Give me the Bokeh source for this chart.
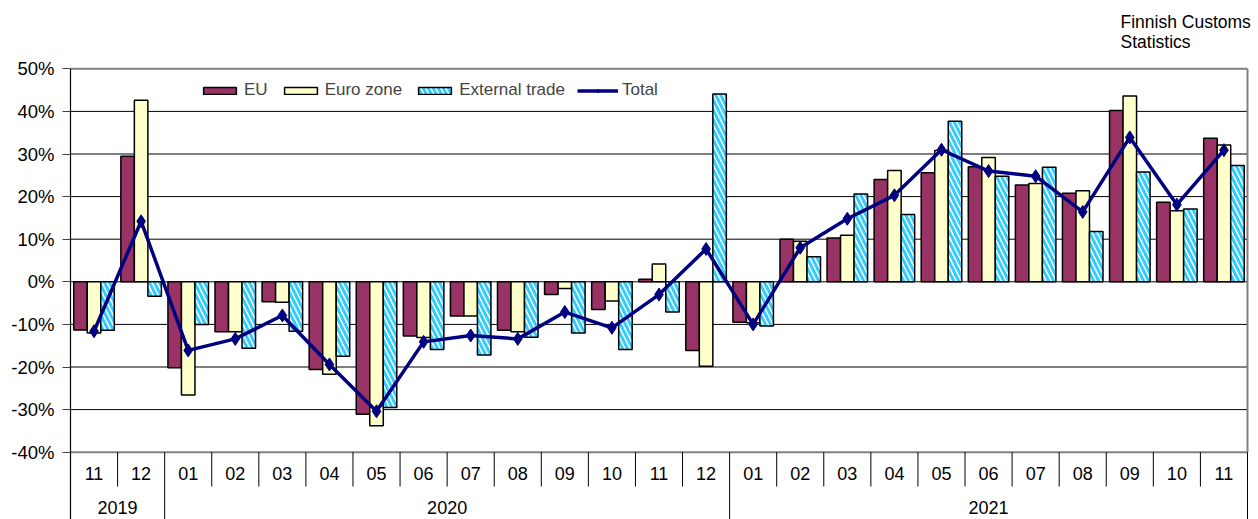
import numpy as np
from bokeh.plotting import figure
from bokeh.models import Range1d, FixedTicker, PrintfTickFormatter, Legend, LegendItem
from bokeh.core.properties import value
from bokeh.embed import file_html
from bokeh.resources import INLINE

# ---------------- data ----------------
months = ["11", "12",
          "01", "02", "03", "04", "05", "06", "07", "08", "09", "10", "11", "12",
          "01", "02", "03", "04", "05", "06", "07", "08", "09", "10", "11"]
years = ["2019", "2020", "2021"]
year_counts = [2, 12, 11]

eu = [-11.3, 29.5, -20.2, -11.7, -4.7, -20.6, -31.1, -12.7, -8.0, -11.4, -3.0, -6.5, 0.6,
      -16.1, -9.5, 10.0, 10.3, 24.0, 25.6, 27.0, 22.7, 20.8, 40.2, 18.7, 33.7]
euro_zone = [-12.0, 42.6, -26.6, -11.7, -4.8, -21.7, -33.8, -13.1, -8.0, -11.7, -1.6, -4.5, 4.2,
             -19.8, -9.6, 9.5, 10.9, 26.1, 30.8, 29.2, 23.1, 21.4, 43.6, 16.7, 32.1]
external = [-11.4, -3.4, -10.0, -15.6, -11.6, -17.5, -29.5, -15.9, -17.2, -13.0, -12.0, -15.9, -7.1,
            44.1, -10.4, 5.9, 20.6, 15.8, 37.7, 24.8, 26.9, 11.8, 25.8, 17.1, 27.3]
total = [-11.6, 14.2, -16.1, -13.4, -7.9, -19.4, -30.4, -14.1, -12.6, -13.4, -7.1, -10.8, -3.0,
         7.7, -10.0, 8.0, 14.8, 20.3, 31.0, 26.0, 24.8, 16.4, 33.9, 18.1, 30.9]
y_ticks = [-40, -30, -20, -10, 0, 10, 20, 30, 40, 50]
note_lines = ["Finnish Customs", "Statistics"]

# ---------------- layout constants ----------------
FONT = "Liberation Sans"
n = len(months)
xc = np.arange(n) + 0.5
bw = 0.287

W, H = 1258, 519
FRAME_LEFT = 68
PX_X = 47.08           # pixels per category
PX_Y = 4.26            # pixels per percentage point
TOP_PX = 68.3          # pixel row of the top tick
y_max, y_min = y_ticks[-1], y_ticks[0]


def py(pix):           # pixel row -> data y
    return y_max - (pix - TOP_PX) / PX_Y


def px(pix):           # pixel column -> data x
    return (pix - (FRAME_LEFT + 2)) / PX_X


x_start = px(FRAME_LEFT)
x_end = px(W)
y_top = py(0)
y_bot = py(H)

p = figure(width=W, height=H, x_range=Range1d(x_start, x_end), y_range=Range1d(y_bot, y_top),
           output_backend="svg", toolbar_location=None, x_axis_type=None,
           min_border_left=FRAME_LEFT, min_border_right=0, min_border_top=0, min_border_bottom=0)
p.outline_line_color = None
p.background_fill_color = "white"
p.xgrid.visible = False
p.ygrid.visible = False

# y axis (ticks + labels; axis line drawn below only over the value area)
p.yaxis.ticker = FixedTicker(ticks=y_ticks)
p.yaxis.formatter = PrintfTickFormatter(format="%d%%")
p.yaxis.major_label_text_font = FONT
p.yaxis.major_label_text_font_size = "18.5px"
p.yaxis.major_label_text_color = "black"
p.yaxis.major_label_standoff = 8
p.yaxis.major_tick_out = 6
p.yaxis.major_tick_in = 2
p.yaxis.minor_tick_line_color = None
p.yaxis.axis_line_color = None
p.yaxis.major_tick_line_color = "#404040"

# horizontal gridlines, limited to the value area
inner = y_ticks[1:-1]
p.segment(x0=[0] * len(inner), y0=inner, x1=[n] * len(inner), y1=inner,
          line_color="black", line_width=1)

# plot area border (top, right, bottom) and left axis line
p.segment(x0=[0, n, 0], y0=[y_max, y_min, y_min], x1=[n, n, n], y1=[y_max, y_max, y_min],
          line_color="#808080", line_width=2)
p.segment(x0=[0], y0=[y_bot], x1=[0], y1=[y_max], line_color="black", line_width=1.2)

# bars
r_eu = p.vbar(x=xc - bw, top=eu, bottom=0, width=bw, fill_color="#993366",
              line_color="black", line_width=1.5)
r_ez = p.vbar(x=xc, top=euro_zone, bottom=0, width=bw, fill_color="#FFFFCC",
              line_color="black", line_width=1.5)
r_ext = p.vbar(x=xc + bw, top=external, bottom=0, width=bw, fill_color="white",
               hatch_pattern="left_diagonal_line", hatch_color="#33CCFF", hatch_scale=10,
               hatch_weight=3, line_color="black", line_width=1.5)

# total line
r_line = p.line(xc, total, line_color="#000080", line_width=3.5)
r_mark = p.scatter(xc, total, marker="diamond", size=13, fill_color="#000080", line_color="#000080")

# category table below the plot
bounds = np.cumsum(year_counts)
month_sep = [b for b in range(1, n) if b not in set(bounds.tolist())]
p.segment(x0=month_sep, y0=y_min, x1=month_sep, y1=py(486), line_color="black", line_width=1)
p.segment(x0=bounds, y0=y_min, x1=bounds, y1=y_bot, line_color="black", line_width=1)
p.text(x=xc, y=py(473), text=months, text_font=value(FONT), text_font_size="18px",
       text_align="center", text_baseline="middle", text_color="black")
year_centers = bounds - np.array(year_counts) / 2
p.text(x=year_centers, y=py(507), text=years, text_font=value(FONT), text_font_size="18px",
       text_align="center", text_baseline="middle", text_color="black")

# source note
p.text(x=[px(1120)] * 2, y=[py(21.7), py(41.7)], text=note_lines, text_font=value(FONT),
       text_font_size="17.5px", text_align="left", text_baseline="alphabetic", text_color="black")

# legend
legend = Legend(items=[LegendItem(label="EU", renderers=[r_eu]),
                       LegendItem(label="Euro zone", renderers=[r_ez]),
                       LegendItem(label="External trade", renderers=[r_ext]),
                       LegendItem(label="Total", renderers=[r_line, r_mark])],
                orientation="horizontal", location=(131, 419),
                glyph_width=41, glyph_height=9, label_standoff=4, spacing=12,
                padding=0, margin=0, border_line_color=None, background_fill_alpha=0,
                label_text_font=FONT, label_text_font_size="17px")
p.add_layout(legend)

open("out.html", "w").write(file_html(p, INLINE))
